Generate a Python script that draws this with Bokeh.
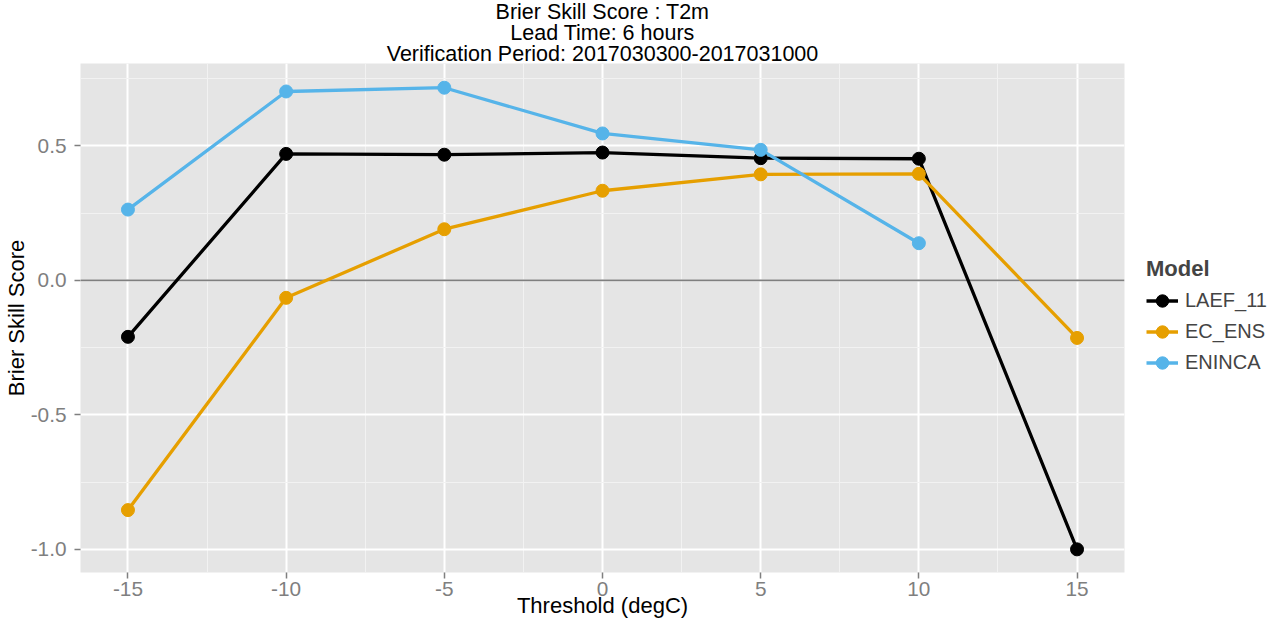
from bokeh.plotting import figure
from bokeh.models import (Range1d, FixedTicker, Span, Legend, LegendItem, Title)
from bokeh.embed import file_html
from bokeh.resources import INLINE

# ---- data ----
thresholds = [-15, -10, -5, 0, 5, 10, 15]
laef_11 = [-0.210, 0.470, 0.467, 0.475, 0.454, 0.452, -1.000]
ec_ens = [-0.854, -0.065, 0.190, 0.333, 0.394, 0.396, -0.214]
eninca_thr = [-15, -10, -5, 0, 5, 10]
eninca = [0.263, 0.702, 0.716, 0.546, 0.485, 0.138]
models = ["LAEF_11", "EC_ENS", "ENINCA"]
colors = ["#000000", "#E69F00", "#56B4E9"]
x_ticks = [-15, -10, -5, 0, 5, 10, 15]
x_tick_labels = ["-15", "-10", "-5", "0", "5", "10", "15"]
y_ticks = [-1.0, -0.5, 0.0, 0.5]
y_tick_labels = ["-1.0", "-0.5", "0.0", "0.5"]
title_lines = ["Brier Skill Score : T2m", "Lead Time: 6 hours",
               "Verification Period: 2017030300-2017031000"]

FONT = "Liberation Sans"
GREY = "#7F7F7F"

p = figure(width=1269, height=623, output_backend="svg", toolbar_location=None,
           x_range=Range1d(-16.5, 16.5), y_range=Range1d(-1.086, 0.806),
           frame_width=1044, frame_height=509,
           min_border_left=78, min_border_right=147,
           min_border_top=63, min_border_bottom=51)

p.title.visible = False
# add bottom line first: later titles are stacked further from the frame
for line in reversed(title_lines):
    p.add_layout(Title(text=line, align="center",
                       text_font=FONT, text_font_size="21.5px",
                       text_font_style="normal", text_color="#000000",
                       standoff=-5, offset=0), "above")

p.background_fill_color = "#E5E5E5"
p.border_fill_color = "white"
p.outline_line_color = None

# axes
p.xaxis.ticker = FixedTicker(ticks=x_ticks, minor_ticks=[-12.5, -7.5, -2.5, 2.5, 7.5, 12.5])
p.yaxis.ticker = FixedTicker(ticks=y_ticks, minor_ticks=[-0.75, -0.25, 0.25, 0.75])
p.xaxis.major_label_overrides = dict(zip(x_ticks, x_tick_labels))
p.yaxis.major_label_overrides = dict(zip(y_ticks, y_tick_labels))
for ax in (p.xaxis[0], p.yaxis[0]):
    ax.axis_line_color = None
    ax.major_tick_line_color = GREY
    ax.major_tick_line_width = 1.5
    ax.major_tick_in = 0
    ax.major_tick_out = 6
    ax.minor_tick_line_color = None
    ax.major_label_text_font = FONT
    ax.major_label_text_font_size = "20.8px"
    ax.major_label_text_color = GREY
    ax.axis_label_text_font = FONT
    ax.axis_label_text_font_size = "22px"
    ax.axis_label_text_font_style = "normal"
    ax.axis_label_text_color = "#000000"
p.yaxis.major_label_standoff = 8
p.yaxis.axis_label_standoff = -1
p.xaxis.major_label_standoff = 3
p.xaxis.axis_label_standoff = -6
p.xaxis.axis_label = "Threshold (degC)"
p.yaxis.axis_label = "Brier Skill Score"

# grids
for g in (p.xgrid[0], p.ygrid[0]):
    g.grid_line_color = "white"
    g.grid_line_width = 2
    g.minor_grid_line_color = "#F2F2F2"
    g.minor_grid_line_width = 1

zero = Span(location=0, dimension="width", line_color="#7F7F7F", line_width=1.6,
            level="underlay")
p.add_layout(zero)

series = [(thresholds, laef_11), (thresholds, ec_ens), (eninca_thr, eninca)]
lines = []
for (xs, ys), c in zip(series, colors):
    lines.append(p.line(xs, ys, line_color=c, line_width=3.3))
pts = []
for (xs, ys), c in zip(series, colors):
    pts.append(p.scatter(xs, ys, size=13, fill_color=c, line_color=c))

items = [LegendItem(label=m, renderers=[l, s]) for m, l, s in zip(models, lines, pts)]
legend = Legend(items=items, location=(22, 194),
                title="Model", title_text_font=FONT, title_text_font_size="22px",
                title_text_font_style="bold", title_standoff=3,
                label_text_font=FONT, label_text_font_size="20px",
                label_height=31, glyph_height=31, glyph_width=32,
                label_standoff=7, spacing=0, padding=0, margin=0,
                border_line_color=None, background_fill_alpha=0)
p.add_layout(legend, "right")

open("out.html", "w").write(file_html(p, INLINE))
